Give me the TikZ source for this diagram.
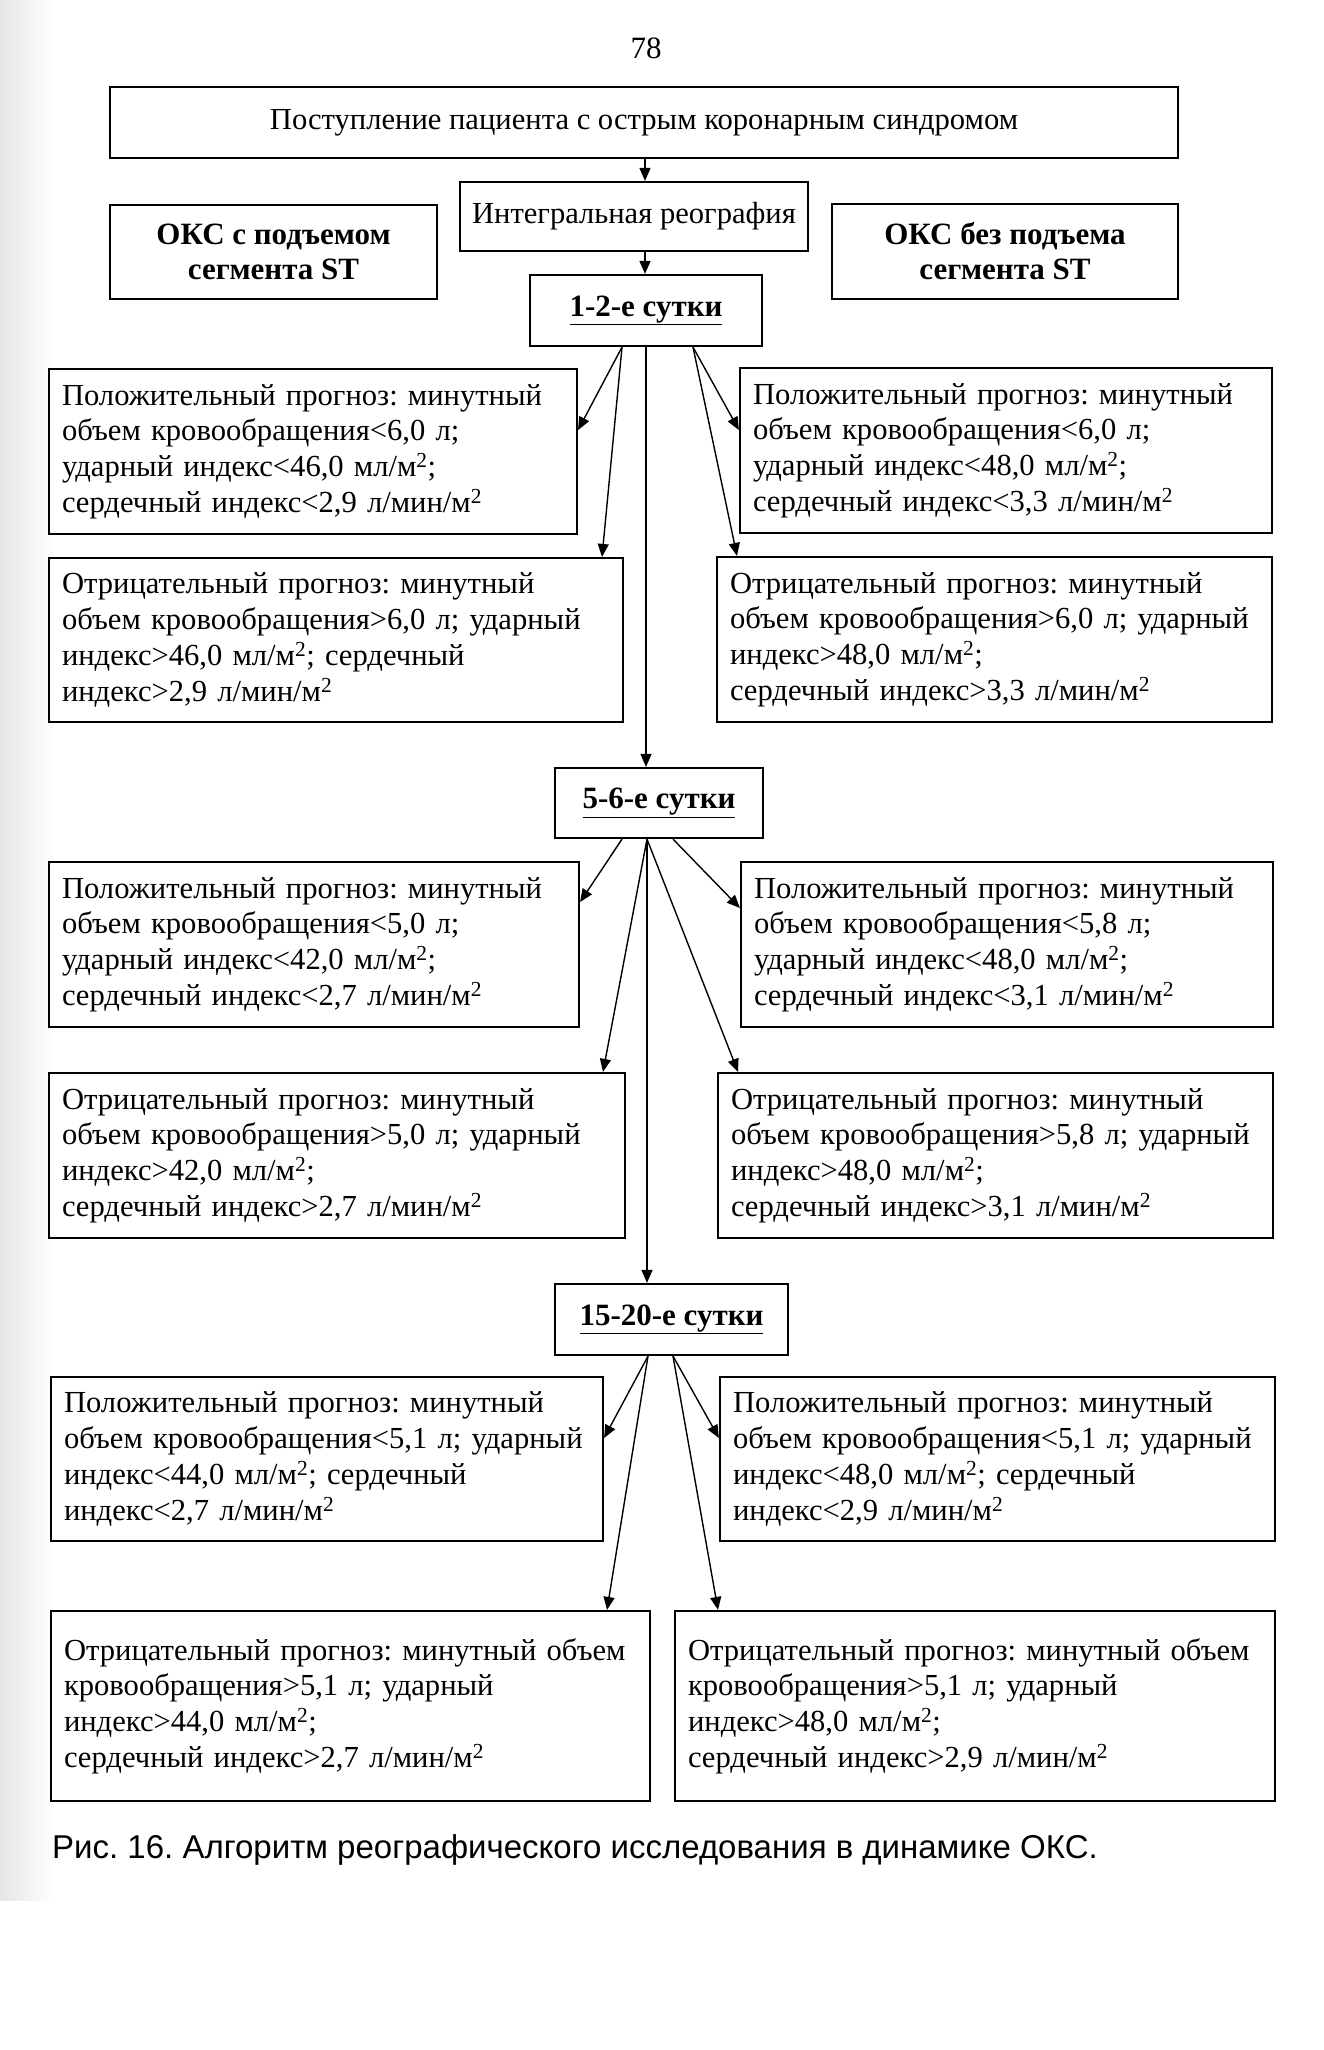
\documentclass[tikz,border=0pt]{standalone}
\usepackage{fontspec}
\setmainfont{Liberation Serif}
\newfontfamily\capfont{Liberation Sans}
\usetikzlibrary{arrows.meta}
\frenchspacing
\begin{document}
\begin{tikzpicture}[x=1pt,y=-1pt,
  box/.style={draw, line width=2.2pt, inner sep=0pt, font=\fontsize{30.6pt}{35.7pt}\selectfont},
  plain/.style={box, align=center},
  boldbox/.style={box, align=center, font=\fontsize{31pt}{35pt}\selectfont\bfseries},
  info/.style 2 args={box, align=left, minimum width=#1pt, minimum height=#2pt,
    /utils/exec={\pgfmathsetlengthmacro\tw{(#1-26)*1pt}}, text width=\tw},
  arr/.style={line width=1.4pt, -{Triangle[length=13pt,width=11pt]}}]
\useasboundingbox (0,0) rectangle (1324,2050);
\fill[white] (0,0) rectangle (1324,2050);
\shade[left color=black!10, right color=white] (0,0) rectangle (55,1900);

\node[font=\fontsize{31pt}{35pt}\selectfont] (pg) at (646,48) {78};

\node[plain, minimum width=1068pt, minimum height=71pt] (top) at (644,122.5) {Поступление пациента с острым коронарным синдромом};
\node[plain, minimum width=348pt, minimum height=69pt] (integ) at (634,216.5) {Интегральная реография};
\node[boldbox, minimum width=327pt, minimum height=94pt] (st1) at (273.5,252) {ОКС с подъемом\\сегмента ST};
\node[boldbox, minimum width=346pt, minimum height=95pt] (st2) at (1005,251.5) {ОКС без подъема\\сегмента ST};

\node[boldbox, minimum width=232pt, minimum height=71pt] (d12) at (646,310.5) {\underline{1-2-е сутки}};
\node[info={528}{165}] (p1L) at (313,451.5) {Положительный прогноз: минутный\\объем кровообращения<6,0 л;\\ударный индекс<46,0 мл/м\textsuperscript{2};\\сердечный индекс<2,9 л/мин/м\textsuperscript{2}};
\node[info={532}{165}] (p1R) at (1006,450.5) {Положительный прогноз: минутный\\объем кровообращения<6,0 л;\\ударный индекс<48,0 мл/м\textsuperscript{2};\\сердечный индекс<3,3 л/мин/м\textsuperscript{2}};
\node[info={574}{164}] (n1L) at (336,640) {Отрицательный прогноз: минутный\\объем кровообращения>6,0 л; ударный\\индекс>46,0 мл/м\textsuperscript{2}; сердечный\\индекс>2,9 л/мин/м\textsuperscript{2}};
\node[info={555}{165}] (n1R) at (994.5,639.5) {Отрицательный прогноз: минутный\\объем кровообращения>6,0 л; ударный\\индекс>48,0 мл/м\textsuperscript{2};\\сердечный индекс>3,3 л/мин/м\textsuperscript{2}};

\node[boldbox, minimum width=208pt, minimum height=70pt] (d56) at (659,803) {\underline{5-6-е сутки}};
\node[info={530}{165}] (p2L) at (314,944.5) {Положительный прогноз: минутный\\объем кровообращения<5,0 л;\\ударный индекс<42,0 мл/м\textsuperscript{2};\\сердечный индекс<2,7 л/мин/м\textsuperscript{2}};
\node[info={532}{165}] (p2R) at (1007,944.5) {Положительный прогноз: минутный\\объем кровообращения<5,8 л;\\ударный индекс<48,0 мл/м\textsuperscript{2};\\сердечный индекс<3,1 л/мин/м\textsuperscript{2}};
\node[info={576}{165}] (n2L) at (337,1155.5) {Отрицательный прогноз: минутный\\объем кровообращения>5,0 л; ударный\\индекс>42,0 мл/м\textsuperscript{2};\\сердечный индекс>2,7 л/мин/м\textsuperscript{2}};
\node[info={555}{165}] (n2R) at (995.5,1155.5) {Отрицательный прогноз: минутный\\объем кровообращения>5,8 л; ударный\\индекс>48,0 мл/м\textsuperscript{2};\\сердечный индекс>3,1 л/мин/м\textsuperscript{2}};

\node[boldbox, minimum width=233pt, minimum height=71pt] (d1520) at (671.5,1319.5) {\underline{15-20-е сутки}};
\node[info={552}{164}] (p3L) at (327,1459) {Положительный прогноз: минутный\\объем кровообращения<5,1 л; ударный\\индекс<44,0 мл/м\textsuperscript{2}; сердечный\\индекс<2,7 л/мин/м\textsuperscript{2}};
\node[info={555}{164}] (p3R) at (997.5,1459) {Положительный прогноз: минутный\\объем кровообращения<5,1 л; ударный\\индекс<48,0 мл/м\textsuperscript{2}; сердечный\\индекс<2,9 л/мин/м\textsuperscript{2}};
\node[info={599}{190}] (n3L) at (350.5,1706) {Отрицательный прогноз: минутный объем\\кровообращения>5,1 л; ударный\\индекс>44,0 мл/м\textsuperscript{2};\\сердечный индекс>2,7 л/мин/м\textsuperscript{2}};
\node[info={600}{190}] (n3R) at (975,1706) {Отрицательный прогноз: минутный объем\\кровообращения>5,1 л; ударный\\индекс>48,0 мл/м\textsuperscript{2};\\сердечный индекс>2,9 л/мин/м\textsuperscript{2}};

\node[anchor=base west, inner sep=0pt, font=\fontsize{33pt}{36pt}\capfont] (cap) at (52,1858) {Рис. 16. Алгоритм реографического исследования в динамике ОКС.};

% connectors
\draw[arr] (top.south -| 645,0) -- (integ.north -| 645,0);
\draw[arr] (integ.south -| 645,0) -- (d12.north -| 645,0);

\draw[arr] (d12.south -| 622,0) -- (p1L.east |- 0,430);
\draw[arr] (d12.south -| 622,0) -- (n1L.north -| 602,0);
\draw[arr] (d12.south -| 646,0) -- (d56.north -| 646,0);
\draw[arr] (d12.south -| 693,0) -- (p1R.west |- 0,430);
\draw[arr] (d12.south -| 693,0) -- (n1R.north -| 737,0);

\draw[arr] (d56.south -| 622,0) -- (p2L.east |- 0,902);
\draw[arr] (d56.south -| 647,0) -- (n2L.north -| 603,0);
\draw[arr] (d56.south -| 647,0) -- (d1520.north -| 647,0);
\draw[arr] (d56.south -| 673,0) -- (p2R.west |- 0,908);
\draw[arr] (d56.south -| 647,0) -- (n2R.north -| 738,0);

\draw[arr] (d1520.south -| 648,0) -- (p3L.east |- 0,1438);
\draw[arr] (d1520.south -| 648,0) -- (n3L.north -| 607,0);
\draw[arr] (d1520.south -| 673,0) -- (p3R.west |- 0,1438);
\draw[arr] (d1520.south -| 673,0) -- (n3R.north -| 718,0);
\end{tikzpicture}
\end{document}
